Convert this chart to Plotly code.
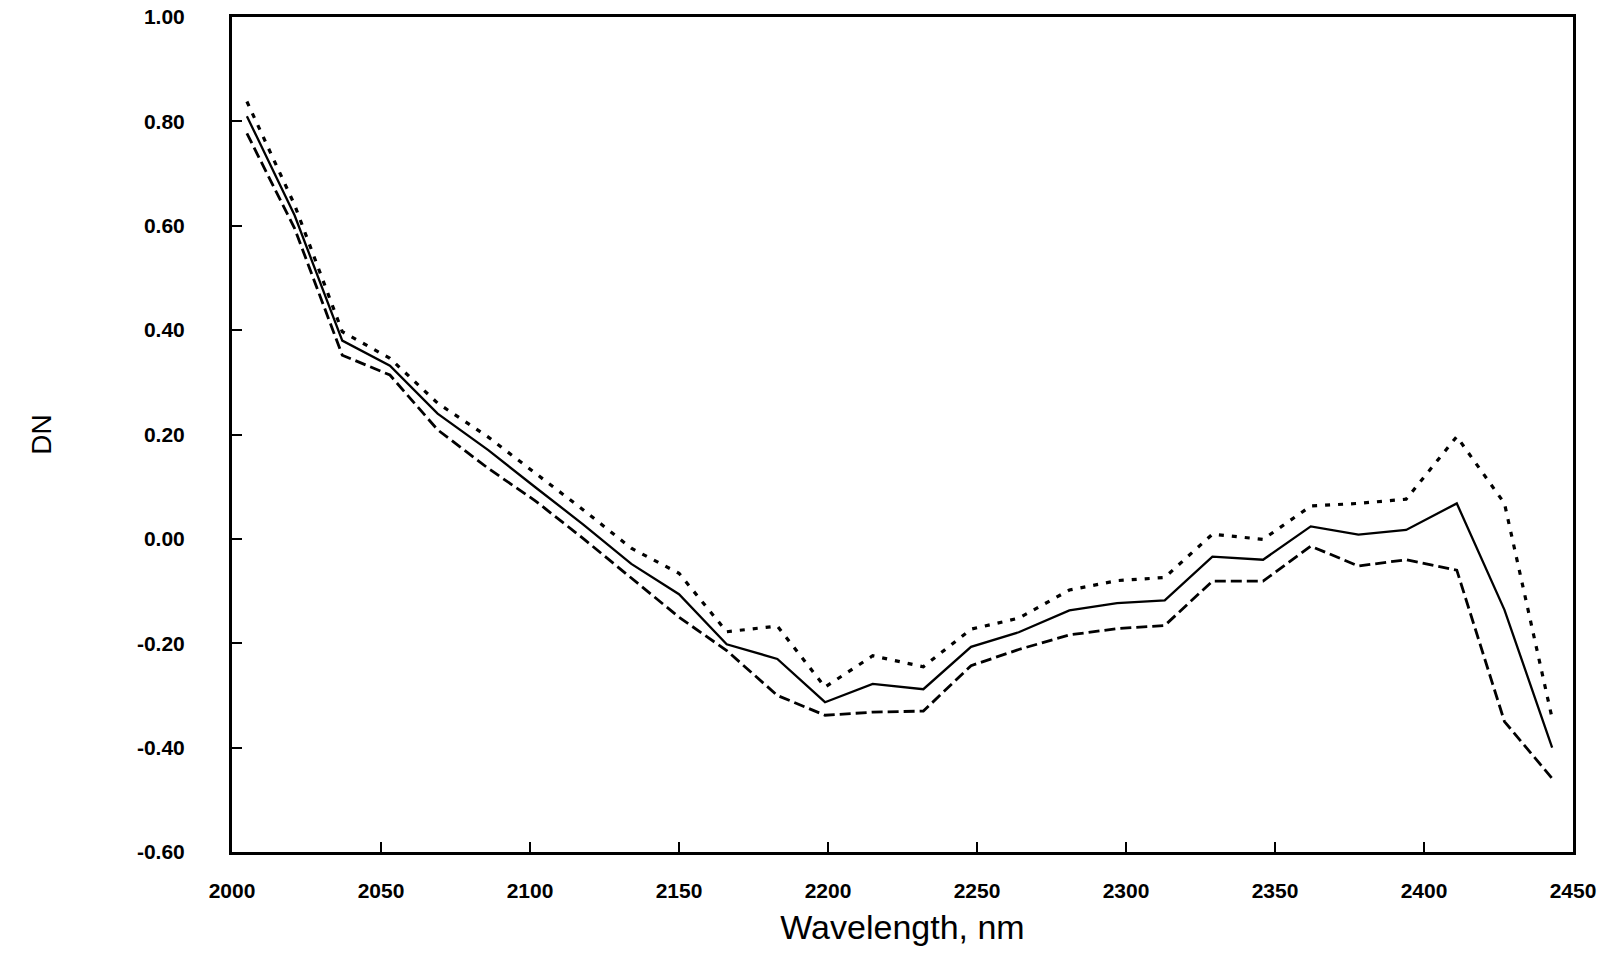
import plotly.graph_objects as go

wavelength = [2005, 2021, 2037, 2053, 2069, 2086, 2102, 2118, 2134, 2150,
              2166, 2183, 2199, 2215, 2232, 2248, 2264, 2281, 2297, 2313,
              2329, 2346, 2362, 2378, 2394, 2411, 2427, 2443]

dn_mean = [0.81, 0.62, 0.38, 0.332, 0.24, 0.17, 0.098, 0.027, -0.048, -0.106,
           -0.202, -0.23, -0.313, -0.278, -0.288, -0.207, -0.179, -0.137, -0.123, -0.118,
           -0.034, -0.040, 0.024, 0.008, 0.017, 0.068, -0.136, -0.400]

dn_upper = [0.838, 0.64, 0.397, 0.346, 0.26, 0.195, 0.125, 0.055, -0.018, -0.066,
            -0.178, -0.167, -0.284, -0.224, -0.245, -0.173, -0.152, -0.098, -0.080, -0.074,
            0.009, -0.001, 0.063, 0.068, 0.076, 0.196, 0.068, -0.344]

dn_lower = [0.777, 0.595, 0.352, 0.314, 0.209, 0.135, 0.072, 0.0, -0.075, -0.150,
            -0.214, -0.300, -0.338, -0.332, -0.330, -0.243, -0.212, -0.184, -0.172, -0.166,
            -0.081, -0.081, -0.014, -0.052, -0.040, -0.060, -0.350, -0.459]

x_ticks = [2000, 2050, 2100, 2150, 2200, 2250, 2300, 2350, 2400, 2450]
y_ticks = [1.00, 0.80, 0.60, 0.40, 0.20, 0.00, -0.20, -0.40, -0.60]

fig = go.Figure()
fig.add_trace(go.Scatter(x=wavelength, y=dn_upper, mode="lines",
                         line=dict(color="black", width=3.2, dash="5px,8px")))
fig.add_trace(go.Scatter(x=wavelength, y=dn_lower, mode="lines",
                         line=dict(color="black", width=2.8, dash="11px,5px")))
fig.add_trace(go.Scatter(x=wavelength, y=dn_mean, mode="lines",
                         line=dict(color="black", width=2.3)))

fig.update_layout(
    width=1608, height=963,
    margin=dict(l=232, r=35, t=17, b=111, autoexpand=False),
    paper_bgcolor="white", plot_bgcolor="white",
    showlegend=False,
    font=dict(family="Liberation Sans, Arial", color="black"),
    xaxis=dict(
        range=[2000, 2450], tickvals=x_ticks, ticktext=[str(v) for v in x_ticks],
        ticks="inside", ticklen=10, tickwidth=1.5, tickcolor="black",
        showline=True, linewidth=3, linecolor="black", mirror=True,
        showgrid=False, zeroline=False,
        tickfont=dict(size=21, weight="bold"),
        ticklabelstandoff=18,
        title=dict(text="Wavelength, nm", font=dict(size=34), standoff=14),
    ),
    yaxis=dict(
        range=[-0.60, 1.00], tickvals=y_ticks, ticktext=["%.2f" % v for v in y_ticks],
        ticks="inside", ticklen=10, tickwidth=1.5, tickcolor="black",
        showline=True, linewidth=3, linecolor="black", mirror=True,
        showgrid=False, zeroline=False,
        tickfont=dict(size=21, weight="bold"),
        ticklabelstandoff=40,
        title=dict(text="DN", font=dict(size=28), standoff=78),
    ),
)

fig.write_html("out.html")
